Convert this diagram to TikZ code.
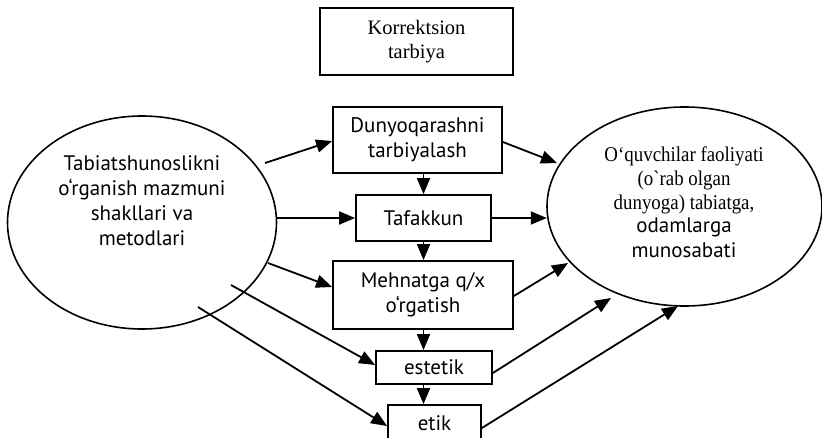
\documentclass[tikz,border=0pt]{standalone}
\usepackage{fontspec}
\setmainfont{Liberation Serif}
\newfontfamily\humsans{PT Sans}
\newfontfamily\narrowser[FakeStretch=0.9]{Liberation Serif}
\usetikzlibrary{arrows.meta}
\tikzset{
  box/.style={draw, line width=1.8pt, inner sep=0pt, align=center},
  ell/.style={draw, line width=1.6pt},
  arr/.style={line width=1.8pt, -{Triangle[length=16pt,width=13pt]}},
  sertext/.style={font=\fontsize{20.5}{24}\selectfont, align=center, inner sep=0pt},
  narrowtext/.style={font=\narrowser\fontsize{21}{24}\selectfont, align=center, inner sep=0pt},
  santext/.style={font=\humsans\fontsize{21}{25}\selectfont, align=center, inner sep=0pt},
}
\begin{document}
\begin{tikzpicture}[x=1pt,y=-1pt]
\useasboundingbox (0,0) rectangle (822,437);
% boxes
\node[box, minimum width=193pt, minimum height=67pt, sertext] (kor) at (416.5,41.5) {Korrektsion\\tarbiya};
\node[box, minimum width=169pt, minimum height=66pt, santext] (dun) at (417.5,140) {Dunyoqarashni\\tarbiyalash};
\node[box, minimum width=135pt, minimum height=46pt, santext] (taf) at (423.5,218) {Tafakkun};
\node[box, minimum width=180pt, minimum height=68pt, santext] (meh) at (423,295) {Mehnatga q/x\\o‘rgatish};
\node[box, minimum width=116pt, minimum height=33pt, santext] (est) at (434,367.5) {estetik};
\node[box, minimum width=93pt, minimum height=40pt, santext] (eti) at (434.5,425) {};
\node[santext] (etitext) at (434.5,423) {etik};
% ellipses
\draw[ell] (142,222.5) ellipse [x radius=134.5pt, y radius=106.5pt];
\node[inner sep=0pt, minimum width=269pt, minimum height=213pt] (lell) at (142,222.5) {};
\node[santext] (ltext) at (142,200.5) {Tabiatshunoslikni\\o‘rganish mazmuni\\shakllari va\\metodlari};
\draw[ell] (684.5,206.5) ellipse [x radius=137.5pt, y radius=99.5pt];
\node[inner sep=0pt, minimum width=275pt, minimum height=199pt] (rell) at (684.5,206.5) {};
\node[narrowtext] (rtext1) at (684,180) {O‘quvchilar faoliyati\\(o`rab olgan\\dunyoga) tabiatga,};
\node[santext] (rtext2) at (684,238) {odamlarga\\munosabati};
% coordinates
\coordinate (l1) at (265,163);
\coordinate (l3) at (268,263);
\coordinate (l4) at (231,285);
\coordinate (l5) at (198,307);
\coordinate (r1) at (557,163);
\coordinate (r3) at (568,263);
\coordinate (r4) at (611,298);
\coordinate (r5) at (678,306);
% left arrows
\draw[arr] (l1) -- (dun.west |- 0,141);
\draw[arr] (lell.east |- taf.west) -- (taf.west);
\draw[arr] (l3) -- (meh.west |- 0,287);
\draw[arr] (l4) -- (est.west |- 0,365);
\draw[arr] (l5) -- (eti.west |- 0,426);
% vertical arrows
\draw[arr] (dun.south -| taf.north) -- (taf.north);
\draw[arr] (taf.south) -- (taf.south |- meh.north);
\draw[arr] (meh.south -| taf.south) -- (taf.south |- est.north);
\draw[arr] (est.south -| taf.south) -- (taf.south |- eti.north);
% right arrows
\draw[arr] (dun.east |- 0,142) -- (r1);
\draw[arr] (taf.east) -- (rell.west |- taf.east);
\draw[arr] (meh.east |- 0,296) -- (r3);
\draw[arr] (est.east |- 0,373) -- (r4);
\draw[arr] (eti.east |- 0,428) -- (r5);
\end{tikzpicture}
\end{document}
